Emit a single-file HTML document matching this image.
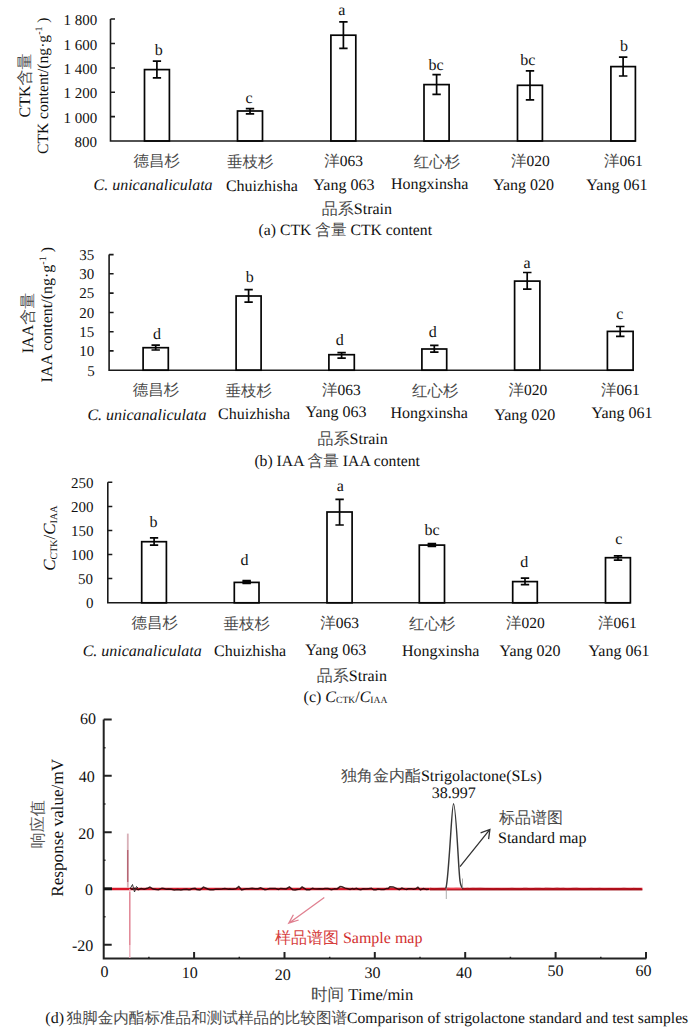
<!DOCTYPE html>
<html><head><meta charset="utf-8">
<style>
html,body{margin:0;padding:0;background:#fff;}
body{width:700px;height:1032px;overflow:hidden;position:relative;}
svg{position:absolute;left:0;top:0;}
text{font-family:"Liberation Serif",serif;fill:#111;text-rendering:geometricPrecision;}
.cj{fill:#4a4a4a;}
.red .cj{fill:#d64040;}
</style></head><body>
<svg width="700" height="1032" viewBox="0 0 700 1032">
<g stroke="#1a1a1a" fill="none" stroke-width="1.6">
<path d="M110.5 19 V141 H635.5"/>
<path d="M110.5 19H115.0 M110.5 43.5H115.0 M110.5 68H115.0 M110.5 92.2H115.0 M110.5 116.6H115.0"/>
</g><g stroke="#050505" fill="none" stroke-width="1.7">
<rect x="144.5" y="69.6" width="24.9" height="71.4"/>
<path d="M156.9 61.2V77.9 M152.8 61.2H161.1 M152.8 77.9H161.1"/>
<rect x="237.5" y="111" width="25.0" height="30.0"/>
<path d="M250.0 108.7V113.9 M245.8 108.7H254.2 M245.8 113.9H254.2"/>
<rect x="330.9" y="35.2" width="24.9" height="105.8"/>
<path d="M343.4 21.8V48.3 M339.2 21.8H347.6 M339.2 48.3H347.6"/>
<rect x="424" y="84.6" width="25.1" height="56.4"/>
<path d="M436.6 74.7V94.4 M432.4 74.7H440.8 M432.4 94.4H440.8"/>
<rect x="517.5" y="85.3" width="24.9" height="55.7"/>
<path d="M530.0 70.9V99.9 M525.8 70.9H534.2 M525.8 99.9H534.2"/>
<rect x="610.9" y="66.6" width="24.5" height="74.4"/>
<path d="M623.1 57.1V76 M618.9 57.1H627.4 M618.9 76H627.4"/>
</g>
<g stroke="#1a1a1a" fill="none" stroke-width="1.6">
<path d="M109.1 254.6 V370.2 H633.1"/>
<path d="M109.1 254.6H113.6 M109.1 273.8H113.6 M109.1 293.1H113.6 M109.1 312.5H113.6 M109.1 331.7H113.6 M109.1 350.9H113.6"/>
</g><g stroke="#050505" fill="none" stroke-width="1.7">
<rect x="143.1" y="347.7" width="25.2" height="22.5"/>
<path d="M155.7 345.1V350 M151.5 345.1H159.9 M151.5 350H159.9"/>
<rect x="236.1" y="296" width="25.0" height="74.2"/>
<path d="M248.6 289.6V302.2 M244.4 289.6H252.8 M244.4 302.2H252.8"/>
<rect x="328.9" y="354.7" width="25.4" height="15.5"/>
<path d="M341.6 352.6V358.1 M337.4 352.6H345.8 M337.4 358.1H345.8"/>
<rect x="421.9" y="349" width="24.8" height="21.2"/>
<path d="M434.3 345.4V352.2 M430.1 345.4H438.5 M430.1 352.2H438.5"/>
<rect x="514.6" y="281.1" width="25.3" height="89.1"/>
<path d="M527.2 272.5V289.2 M523.0 272.5H531.5 M523.0 289.2H531.5"/>
<rect x="607.4" y="331.4" width="25.7" height="38.8"/>
<path d="M620.2 326.5V336.4 M616.0 326.5H624.5 M616.0 336.4H624.5"/>
</g>
<g stroke="#1a1a1a" fill="none" stroke-width="1.6">
<path d="M107.8 482.3 V602.8 H630.4"/>
<path d="M107.8 482.3H112.3 M107.8 506.5H112.3 M107.8 530.5H112.3 M107.8 554.5H112.3 M107.8 578.5H112.3"/>
</g><g stroke="#050505" fill="none" stroke-width="1.7">
<rect x="141.7" y="541.7" width="24.7" height="61.1"/>
<path d="M154.1 537.8V545.1 M149.9 537.8H158.2 M149.9 545.1H158.2"/>
<rect x="234.3" y="582.4" width="24.7" height="20.4"/>
<path d="M246.7 580.6V583.5 M242.5 580.6H250.8 M242.5 583.5H250.8"/>
<rect x="242.5" y="580.6" width="8.4" height="2.9" fill="#050505" stroke="none"/>
<rect x="327" y="512" width="25.1" height="90.8"/>
<path d="M339.6 499.4V525 M335.4 499.4H343.8 M335.4 525H343.8"/>
<rect x="419.3" y="545.1" width="25.2" height="57.7"/>
<path d="M431.9 543.5V546.5 M427.7 543.5H436.1 M427.7 546.5H436.1"/>
<rect x="427.7" y="543.5" width="8.4" height="3.0" fill="#050505" stroke="none"/>
<rect x="512.7" y="581.6" width="24.6" height="21.2"/>
<path d="M525.0 578.2V584.7 M520.8 578.2H529.2 M520.8 584.7H529.2"/>
<rect x="605.5" y="557.7" width="24.9" height="45.1"/>
<path d="M618.0 555.9V560.2 M613.8 555.9H622.2 M613.8 560.2H622.2"/>
</g>
<text transform="translate(29.6,85.5) rotate(-90)" text-anchor="middle" font-size="16">CTK<tspan class="cj">含量</tspan></text>
<text transform="translate(48.4,85.7) rotate(-90)" text-anchor="middle" font-size="15.6">CTK content/(ng·g<tspan dy="-6" font-size="10">-1</tspan><tspan dy="6"> )</tspan></text>
<text transform="translate(33.1,323) rotate(-90)" text-anchor="middle" font-size="16">IAA<tspan class="cj">含量</tspan></text>
<text transform="translate(52.2,314.7) rotate(-90)" text-anchor="middle" font-size="16">IAA content/(ng·g<tspan dy="-6" font-size="10">-1</tspan><tspan dy="6"> )</tspan></text>
<text transform="translate(55.3,538.2) rotate(-90)" text-anchor="middle" font-size="17"><tspan font-style="italic">C</tspan><tspan font-size="10" dy="2">CTK</tspan><tspan dy="-2">/</tspan><tspan font-style="italic">C</tspan><tspan font-size="10" dy="2">IAA</tspan></text>
<text transform="translate(42.6,824.3) rotate(-90)" text-anchor="middle" font-size="16" style="fill:#575757">响应值</text>
<text transform="translate(62.8,827.8) rotate(-90)" text-anchor="middle" font-size="17.2">Response value/mV</text>
<g stroke="#222" fill="none" stroke-width="2">
<path d="M103.7 719.5 V958.6 H646.3"/>
<path d="M103.7 719.5H111.7 M103.7 775.8H111.7 M103.7 832.2H111.7 M103.7 944.8H111.7 M194.1 958.6V952.1 M284.5 958.6V952.1 M374.8 958.6V952.1 M465.2 958.6V952.1 M555.6 958.6V952.1 M646.0 958.6V952.1"/>
</g>
<path d="M103.7 747.7H105.5 M103.7 804.0H105.5 M103.7 860.3H105.5 M103.7 916.7H105.5 M148.9 958.6V956.8000000000001 M239.3 958.6V956.8000000000001 M329.7 958.6V956.8000000000001 M420.0 958.6V956.8000000000001 M510.4 958.6V956.8000000000001 M600.8 958.6V956.8000000000001" stroke="#222" stroke-width="1.5" fill="none"/>
<path d="M104 888.8 H112" stroke="#111" stroke-width="3" fill="none"/>
<path d="M112 889.0 H642.4" stroke="#d8182a" stroke-width="2.4" fill="none"/>
<path d="M430 889.9 H642.4" stroke="#600" stroke-width="1" fill="none" opacity="0.6"/>
<path d="M130.0 888.63 L132.2 889.29 L133.9 888.22 L135.9 888.62 L138.3 889.71 L141.1 888.47 L144.3 889.14 L147.2 888.32 L149.9 887.14 L153.1 889.05 L156.4 889.49 L158.6 889.64 L162.0 888.18 L163.8 888.59 L166.2 889.33 L168.7 888.89 L171.3 889.25 L174.2 889.87 L177.7 889.41 L180.9 889.94 L183.6 889.48 L186.7 889.23 L188.3 889.74 L190.0 889.64 L191.8 888.73 L195.1 888.28 L196.7 889.49 L199.9 889.97 L203.4 887.16 L206.1 888.26 L208.4 889.30 L210.0 889.76 L213.4 889.81 L215.9 889.14 L218.5 889.21 L221.9 889.11 L224.9 888.63 L228.3 889.14 L229.8 888.95 L231.4 889.31 L233.0 889.33 L235.9 888.83 L238.8 886.64 L241.7 889.93 L244.1 889.27 L246.3 888.76 L249.0 888.74 L252.1 888.25 L255.0 888.76 L258.1 888.63 L260.5 887.86 L262.7 888.80 L265.0 889.74 L267.2 889.37 L269.6 888.61 L272.2 888.54 L275.4 888.53 L278.5 889.36 L280.7 888.43 L283.7 888.69 L286.1 888.96 L289.4 886.88 L292.8 889.78 L295.2 889.91 L297.1 889.54 L299.9 889.13 L302.1 887.01 L304.8 888.72 L306.4 889.83 L309.7 889.81 L312.4 888.22 L314.2 888.74 L316.8 888.94 L319.5 888.81 L322.7 889.06 L324.9 888.56 L328.1 888.51 L331.4 889.65 L332.9 889.33 L334.5 888.69 L337.1 888.96 L340.1 886.60 L341.9 886.82 L345.3 888.14 L347.8 888.77 L350.0 889.36 L352.3 888.54 L354.0 889.20 L356.3 888.34 L358.5 889.29 L360.8 889.64 L363.1 888.87 L366.1 888.96 L368.5 888.64 L371.4 888.33 L373.7 889.78 L376.0 889.82 L378.0 889.04 L381.1 889.39 L384.2 889.40 L386.8 888.39 L388.3 888.46 L389.9 886.77 L393.2 886.92 L396.4 888.42 L399.2 889.71 L401.9 888.04 L404.9 889.12 L406.6 889.55 L408.2 888.78 L411.4 888.64 L413.4 889.31 L415.7 888.86 L417.9 887.35 L420.4 889.95 L423.4 888.49 L426.4 889.41 L428.9 889.36" stroke="#200404" stroke-width="1.5" fill="none" opacity="0.85"/>
<path d="M430.0 888.10 L434.2 888.92 L437.8 888.44 L442.0 888.19 L444.8 888.20 L448.5 888.31 L451.2 888.69 L456.1 888.30 L460.2 888.41 L464.7 888.58 L467.5 888.22 L469.6 888.48 L472.8 888.17 L475.8 888.32 L480.2 888.14 L485.1 888.48 L488.9 888.47 L493.4 888.82 L497.1 888.48 L501.3 888.86 L504.5 888.73 L509.4 888.47 L512.0 888.23 L516.2 888.68 L521.1 888.85 L523.8 888.19 L526.6 888.19 L530.7 888.86 L535.4 888.26 L540.0 888.31 L543.3 888.73 L545.5 888.09 L550.0 888.29 L553.1 888.58 L557.1 888.01 L560.1 888.44 L563.6 888.21 L567.3 888.96 L570.5 888.54 L572.9 888.27 L576.9 888.11 L581.5 888.91 L583.8 888.94 L586.9 888.77 L591.2 888.30 L595.2 888.65 L599.7 888.27 L603.9 888.96 L607.9 888.54 L610.3 888.49 L613.3 888.72 L617.4 888.57 L619.9 888.65 L623.8 888.18 L628.5 888.66 L630.8 888.93 L633.3 888.33 L637.4 888.60 L641.1 888.65" stroke="#600" stroke-width="0.8" fill="none" opacity="0.5"/>
<path d="M127.8 888 V833.6" stroke="#d8b0b8" stroke-width="1.8" fill="none"/>
<path d="M127.8 882 V850" stroke="#a84858" stroke-width="1.0" fill="none"/>
<path d="M129.8 889 V958" stroke="#eeb0bc" stroke-width="1.4" fill="none"/>
<path d="M129.8 892 V945" stroke="#d86878" stroke-width="0.8" fill="none"/>
<path d="M130.5 888 L132.5 884.5 L134.5 892 L136.5 886.5 L138 888" stroke="#333" stroke-width="1" fill="none"/>
<path d="M445.7 888.5 C447 886.5 447.5 878 449.2 856 S452.3 803.7 453.5 803.7 S456.7 830 458.2 856 S460 886 463 888.5" stroke="#383838" stroke-width="1.45" fill="none"/>
<path d="M446.3 888 V899 M462.5 878.5 V888" stroke="#999" stroke-width="0.8" fill="none"/>
<path d="M447 888.6 H462" stroke="#f04050" stroke-width="1.4" fill="none"/>
<path d="M460 866.6 L489.9 829.4 M480.6 832.9 L489.9 829.4 L488.6 839.1" stroke="#333" stroke-width="1.3" fill="none"/>
<path d="M324.3 897.5 L288.8 923.2 M298.6 920 L288.8 923.2 L293.4 914.7" stroke="#e08090" stroke-width="1.3" fill="none"/>
<text x="63.5" y="25.0" font-size="15">1 800</text>
<text x="63.5" y="49.5" font-size="15">1 600</text>
<text x="63.5" y="74.0" font-size="15">1 400</text>
<text x="63.5" y="98.2" font-size="15">1 200</text>
<text x="63.5" y="122.6" font-size="15">1 000</text>
<text x="74.5" y="147.0" font-size="15">800</text>
<text x="154.75" y="55.4" font-size="16">b</text>
<text x="245.5" y="102.5" font-size="16">c</text>
<text x="338.3" y="15.0" font-size="16">a</text>
<text x="428.5" y="69.6" font-size="16">bc</text>
<text x="520.25" y="64.5" font-size="16">bc</text>
<text x="620.0" y="51.3" font-size="16">b</text>
<text x="133.6" y="165.6" font-size="15.5"><tspan class="cj">德昌杉</tspan></text>
<text x="227.0" y="167.0" font-size="15.5"><tspan class="cj">垂枝杉</tspan></text>
<text x="324.2" y="166.0" font-size="15.5"><tspan class="cj">洋</tspan>063</text>
<text x="413.8" y="166.5" font-size="15.5"><tspan class="cj">红心杉</tspan></text>
<text x="511.0" y="166.0" font-size="15.5"><tspan class="cj">洋</tspan>020</text>
<text x="603.9" y="166.0" font-size="15.5"><tspan class="cj">洋</tspan>061</text>
<text x="93.5" y="190.2" font-size="16" font-style="italic">C. unicanaliculata</text>
<text x="225.9" y="190.5" font-size="16">Chuizhisha</text>
<text x="313.35" y="190.4" font-size="16">Yang 063</text>
<text x="391.0" y="189.2" font-size="16">Hongxinsha</text>
<text x="493.0" y="189.9" font-size="16">Yang 020</text>
<text x="586.35" y="189.9" font-size="16">Yang 061</text>
<text x="321.8" y="214.4" font-size="16"><tspan class="cj">品系</tspan>Strain</text>
<text x="258.6" y="235.1" font-size="15.7">(a) CTK <tspan class="cj">含量</tspan> CTK content</text>
<text x="79.3" y="259.9" font-size="15">35</text>
<text x="79.3" y="279.1" font-size="15">30</text>
<text x="79.3" y="298.4" font-size="15">25</text>
<text x="79.3" y="317.8" font-size="15">20</text>
<text x="79.3" y="337.0" font-size="15">15</text>
<text x="79.3" y="356.2" font-size="15">10</text>
<text x="87.3" y="375.5" font-size="15">5</text>
<text x="153.1" y="339.1" font-size="16">d</text>
<text x="245.7" y="282.0" font-size="16">b</text>
<text x="335.85" y="345.0" font-size="16">d</text>
<text x="428.7" y="336.5" font-size="16">d</text>
<text x="523.5" y="268.3" font-size="16">a</text>
<text x="616.35" y="318.6" font-size="16">c</text>
<text x="132.75" y="394.6" font-size="15.5"><tspan class="cj">德昌杉</tspan></text>
<text x="225.55" y="396.0" font-size="15.5"><tspan class="cj">垂枝杉</tspan></text>
<text x="322.0" y="395.0" font-size="15.5"><tspan class="cj">洋</tspan>063</text>
<text x="412.0" y="395.5" font-size="15.5"><tspan class="cj">红心杉</tspan></text>
<text x="508.45" y="395.0" font-size="15.5"><tspan class="cj">洋</tspan>020</text>
<text x="601.0" y="395.0" font-size="15.5"><tspan class="cj">洋</tspan>061</text>
<text x="87.4" y="420.2" font-size="16" font-style="italic">C. unicanaliculata</text>
<text x="218.1" y="419.2" font-size="16">Chuizhisha</text>
<text x="305.5" y="417.0" font-size="16">Yang 063</text>
<text x="390.5" y="418.0" font-size="16">Hongxinsha</text>
<text x="494.25" y="419.5" font-size="16">Yang 020</text>
<text x="591.5" y="418.3" font-size="16">Yang 061</text>
<text x="317.6" y="444.2" font-size="16"><tspan class="cj">品系</tspan>Strain</text>
<text x="254.4" y="465.6" font-size="15.7">(b) IAA <tspan class="cj">含量</tspan> IAA content</text>
<text x="70.9" y="487.9" font-size="15">250</text>
<text x="70.9" y="512.1" font-size="15">200</text>
<text x="70.9" y="536.1" font-size="15">150</text>
<text x="70.9" y="560.1" font-size="15">100</text>
<text x="77.9" y="584.1" font-size="15">50</text>
<text x="85.9" y="608.4" font-size="15">0</text>
<text x="149.45" y="526.7" font-size="16">b</text>
<text x="240.45" y="565.3" font-size="16">d</text>
<text x="336.65" y="490.5" font-size="16">a</text>
<text x="424.6" y="535.0" font-size="16">bc</text>
<text x="520.3" y="567.3" font-size="16">d</text>
<text x="615.35" y="543.5" font-size="16">c</text>
<text x="131.55" y="628.3" font-size="15.5"><tspan class="cj">德昌杉</tspan></text>
<text x="223.5" y="628.8" font-size="15.5"><tspan class="cj">垂枝杉</tspan></text>
<text x="320.3" y="628.3" font-size="15.5"><tspan class="cj">洋</tspan>063</text>
<text x="409.0" y="628.8" font-size="15.5"><tspan class="cj">红心杉</tspan></text>
<text x="506.0" y="628.3" font-size="15.5"><tspan class="cj">洋</tspan>020</text>
<text x="598.0" y="628.3" font-size="15.5"><tspan class="cj">洋</tspan>061</text>
<text x="82.65" y="655.7" font-size="16" font-style="italic">C. unicanaliculata</text>
<text x="214.1" y="655.9" font-size="16">Chuizhisha</text>
<text x="305.2" y="654.7" font-size="16">Yang 063</text>
<text x="402.0" y="655.5" font-size="16">Hongxinsha</text>
<text x="499.5" y="656.0" font-size="16">Yang 020</text>
<text x="588.4" y="655.5" font-size="16">Yang 061</text>
<text x="316.8" y="680.8" font-size="16"><tspan class="cj">品系</tspan>Strain</text>
<text x="303.6" y="701.7" font-size="16">(c) <tspan font-style="italic">C</tspan><tspan font-size="9.6" dy="1.5">CTK</tspan><tspan dy="-1.5">/</tspan><tspan font-style="italic">C</tspan><tspan font-size="9.6" dy="1.5">IAA</tspan></text>
<text x="80.0" y="723.7" font-size="16">60</text>
<text x="78.8" y="782.2" font-size="16">40</text>
<text x="78.3" y="838.9" font-size="16">20</text>
<text x="84.9" y="894.7" font-size="16">0</text>
<text x="72.0" y="950.5" font-size="16">-20</text>
<text x="100.5" y="977.0" font-size="16">0</text>
<text x="181.8" y="978.2" font-size="16">10</text>
<text x="274.8" y="979.5" font-size="16">20</text>
<text x="364.5" y="978.2" font-size="16">30</text>
<text x="456.0" y="977.7" font-size="16">40</text>
<text x="547.5" y="976.1" font-size="16">50</text>
<text x="635.5" y="975.5" font-size="16">60</text>
<text x="340.9" y="780.5" font-size="16"><tspan class="cj">独角金内酯</tspan>Strigolactone(SLs)</text>
<text x="431.65" y="797.6" font-size="16">38.997</text>
<text x="499.0" y="823.2" font-size="16"><tspan class="cj">标品谱图</tspan></text>
<text x="498.0" y="843.0" font-size="16">Standard map</text>
<text x="274.9" y="943.0" font-size="16" class="red" style="fill:#d23030"><tspan class="cj">样品谱图</tspan> Sample map</text>
<text x="311.0" y="999.8" font-size="16.6"><tspan class="cj">时间</tspan> Time/min</text>
<text x="45.3" y="1023.1" font-size="16">(d)<tspan font-size="15.6" dx="2.5"><tspan class="cj">独脚金内酯标准品和测试样品的比较图谱</tspan></tspan></text>
<text x="347.1" y="1023.1" font-size="15.63">Comparison of strigolactone standard and test samples</text>
</svg>
</body></html>
